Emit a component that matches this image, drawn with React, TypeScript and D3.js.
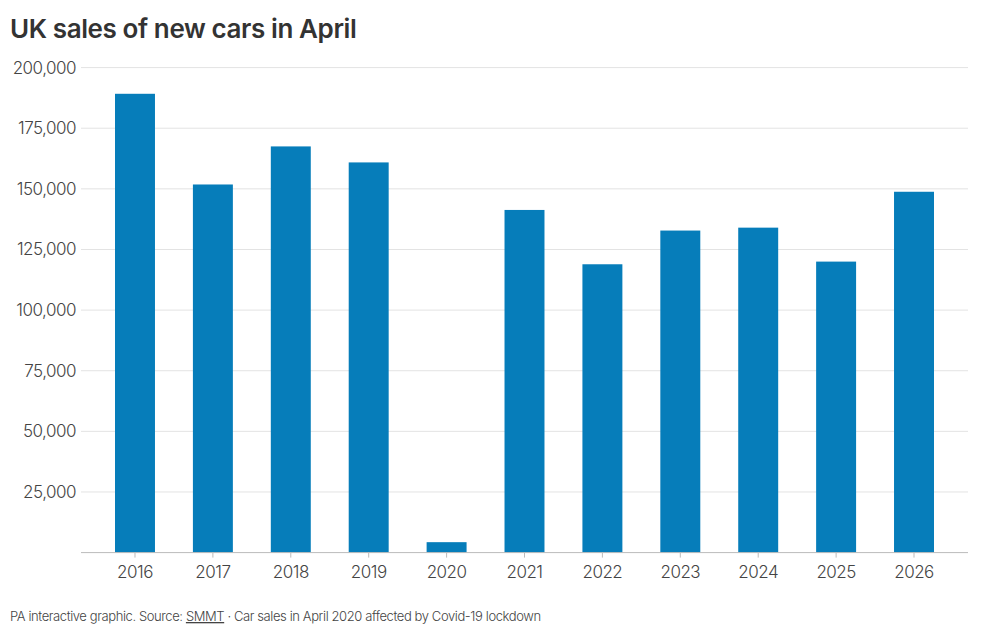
import React from 'react';
import * as d3 from 'd3';

const years = ['2016', '2017', '2018', '2019', '2020', '2021', '2022', '2023', '2024', '2025', '2026'];
const sales = [189200, 151800, 167500, 160900, 4300, 141300, 118900, 132800, 134000, 120000, 148800];
const yTicks = [25000, 50000, 75000, 100000, 125000, 150000, 175000, 200000];

const W = 1000;
const H = 637;
const left = 81;
const right = 968;
const top = 67.6;
const bottom = 552.6;
const font = 'Inter, "Noto Sans", sans-serif';

export default function App() {
  const x = d3.scaleBand<string>().domain(years).range([left, right]).paddingInner(0.487).paddingOuter(0.4365);
  const y = d3.scaleLinear().domain([0, 200000]).range([bottom, top]);
  const fmt = d3.format(',');

  return (
    <svg width={W} height={H} style={{ position: 'absolute', left: 0, top: 0, background: '#fff' }}>
      <text x={10} y={38} fontFamily={font} fontSize={26} fontWeight={600} fill="#333" letterSpacing={-0.4}>
        UK sales of new cars in April
      </text>

      {/* gridlines + y labels */}
      {yTicks.map(t => (
        <g key={t}>
          <line x1={left} x2={right} y1={y(t)} y2={y(t)} stroke="#e3e3e3" strokeWidth={1} />
          <text x={76} y={y(t) + 6} textAnchor="end" fontFamily={font} fontSize={17} fontWeight={300} fill="#444" letterSpacing={-0.5}>
            {fmt(t)}
          </text>
        </g>
      ))}

      {/* bars */}
      {years.map((yr, i) => (
        <rect key={yr} x={x(yr)} y={y(sales[i])} width={x.bandwidth()} height={bottom - y(sales[i])} fill="#067dba" />
      ))}

      {/* x axis */}
      <line x1={left} x2={right} y1={bottom} y2={bottom} stroke="#bbb" strokeWidth={1} />
      {years.map(yr => {
        const cx = (x(yr) as number) + x.bandwidth() / 2;
        return (
          <g key={yr}>
            <line x1={cx} x2={cx} y1={bottom} y2={bottom + 5} stroke="#bbb" />
            <text x={cx} y={578} textAnchor="middle" fontFamily={font} fontSize={17} fontWeight={300} fill="#444" letterSpacing={-0.5}>
              {yr}
            </text>
          </g>
        );
      })}

      <text x={10} y={621} fontFamily={font} fontSize={13} fontWeight={300} fill="#444" letterSpacing={-0.4}>
        PA interactive graphic. Source: <tspan textDecoration="underline">SMMT</tspan> · Car sales in April 2020 affected by Covid-19 lockdown
      </text>
    </svg>
  );
}
